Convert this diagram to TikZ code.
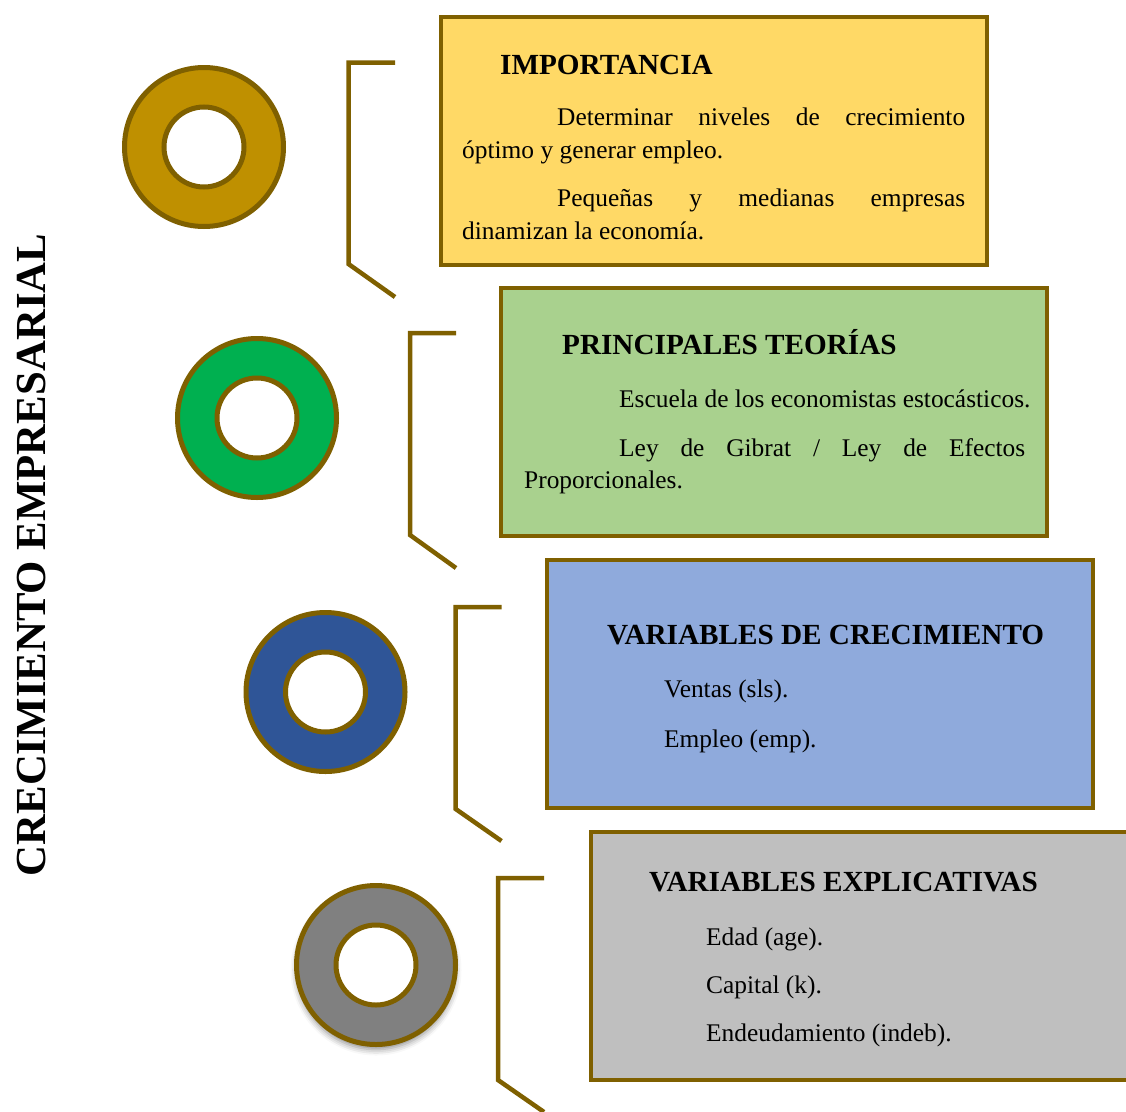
\documentclass[tikz,border=0pt]{standalone}
\usepackage{fontspec}
\setmainfont{Liberation Serif}
\usetikzlibrary{shadows.blur}

\definecolor{edge}{HTML}{7F6000}
\definecolor{ringgold}{HTML}{BF9000}
\definecolor{ringgreen}{HTML}{00B050}
\definecolor{ringblue}{HTML}{2F5597}
\definecolor{ringgray}{HTML}{808080}
\definecolor{boxyellow}{HTML}{FFD966}
\definecolor{boxgreen}{HTML}{A9D18E}
\definecolor{boxblue}{HTML}{8FAADC}
\definecolor{boxgray}{HTML}{BFBFBF}

\begin{document}
\begin{tikzpicture}[x=1pt, y=-1pt,
  panel/.style={draw=edge, line width=4pt, minimum width=546pt, minimum height=248pt,
                anchor=north west, inner sep=0pt},
  ringout/.style={circle, draw=edge, line width=5pt, minimum size=159pt, inner sep=0pt},
  ringin/.style={circle, draw=edge, fill=white, line width=5pt, minimum size=80pt, inner sep=0pt},
  bracket/.style={draw=edge, line width=4.5pt, line join=miter},
  heading/.style={anchor=base west, inner sep=0pt, font=\fontsize{29.2}{34}\selectfont\bfseries},
  body/.style={anchor=base west, inner sep=0pt, font=\fontsize{25.4}{30}\selectfont}]

\useasboundingbox (0,0) rectangle (1126,1111);
\clip (0,0) rectangle (1126,1111);

% vertical title
\node[rotate=90, anchor=base, inner sep=0pt, font=\fontsize{42.8}{50}\selectfont\bfseries]
  (title) at (45,555) {CRECIMIENTO EMPRESARIAL};

% rings
\node[ringout, fill=ringgold] (r1) at (204,147) {};
\node[ringin] (h1) at (r1.center) {};
\node[ringout, fill=ringgreen] (r2) at (257,418) {};
\node[ringin] (h2) at (r2.center) {};
\node[ringout, fill=ringblue] (r3) at (325.5,692) {};
\node[ringin] (h3) at (r3.center) {};
\node[ringout, fill=ringgray,
      blur shadow={shadow xshift=0pt, shadow yshift=-5pt, shadow blur radius=6pt, shadow opacity=45}]
  (r4) at (376,965) {};
\node[ringin] (h4) at (r4.center) {};

% brackets
\draw[bracket] (395,62.7) -- (348.5,62.7) -- (348.5,264) -- (395,297);
\draw[bracket] (456,333) -- (410,333) -- (410,535) -- (456,568);
\draw[bracket] (501.5,607) -- (455.7,607) -- (455.7,809) -- (501.5,841);
\draw[bracket] (544,878) -- (498,878) -- (498,1080) -- (544,1112);

% panels
\node[panel, fill=boxyellow] (b1) at (439,15) {};
\node[panel, fill=boxgreen] (b2) at (499,286) {};
\node[panel, fill=boxblue] (b3) at (545,558) {};
\node[panel, fill=boxgray] (b4) at (589,830) {};

% panel 1
\node[heading] (t1) at (500,74) {IMPORTANCIA};
\node[body] (p1a) at (557,125) {\makebox[408pt][s]{Determinar niveles de crecimiento}};
\node[body] (p1b) at (462,158) {óptimo y generar empleo.};
\node[body] (p1c) at (557,206) {\makebox[408pt][s]{Pequeñas y medianas empresas}};
\node[body] (p1d) at (462,239) {dinamizan la economía.};

% panel 2
\node[heading] (t2) at (562,354) {PRINCIPALES TEORÍAS};
\node[body] (p2a) at (619,407) {Escuela de los economistas estocásticos.};
\node[body] (p2b) at (619,456) {\makebox[406pt][s]{Ley de Gibrat / Ley de Efectos}};
\node[body] (p2c) at (524,488) {Proporcionales.};

% panel 3
\node[heading] (t3) at (607,644) {VARIABLES DE CRECIMIENTO};
\node[body] (p3a) at (664,697) {Ventas (sls).};
\node[body] (p3b) at (664,747) {Empleo (emp).};

% panel 4
\node[heading] (t4) at (649,891) {VARIABLES EXPLICATIVAS};
\node[body] (p4a) at (706,945) {Edad (age).};
\node[body] (p4b) at (706,993) {Capital (k).};
\node[body] (p4c) at (706,1041) {Endeudamiento (indeb).};
\end{tikzpicture}
\end{document}
